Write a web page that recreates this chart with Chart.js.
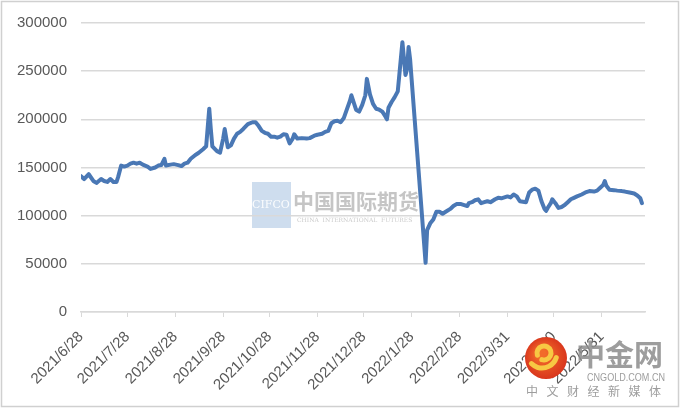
<!DOCTYPE html>
<html>
<head>
<meta charset="utf-8">
<script src="https://cdn.jsdelivr.net/npm/chart.js@4.4.1/dist/chart.umd.min.js"></script>
<style>
  html, body { margin: 0; padding: 0; background: #fff; }
  #wrap { width: 680px; height: 409px; position: relative; }
</style>
</head>
<body>
<div id="wrap"><canvas id="chart"></canvas></div>
<script>
// ---- data ----
const axisStart = '2021/6/28';
const axisEnd = '2022/6/28';
const tickLabels = ['2021/6/28', '2021/7/28', '2021/8/28', '2021/9/28', '2021/10/28', '2021/11/28',
  '2021/12/28', '2022/1/28', '2022/2/28', '2022/3/31', '2022/4/30', '2022/5/31'];

const dates = [
  '2021-06-28', '2021-06-30', '2021-07-03', '2021-07-06', '2021-07-08', '2021-07-11', '2021-07-13',
  '2021-07-15', '2021-07-17', '2021-07-19', '2021-07-21', '2021-07-22', '2021-07-24', '2021-07-26',
  '2021-07-28', '2021-07-30', '2021-08-01', '2021-08-03', '2021-08-05', '2021-08-07', '2021-08-10',
  '2021-08-12', '2021-08-15', '2021-08-17', '2021-08-19', '2021-08-21', '2021-08-22', '2021-08-25',
  '2021-08-27', '2021-08-30', '2021-09-01', '2021-09-03', '2021-09-05', '2021-09-07', '2021-09-10',
  '2021-09-12', '2021-09-15', '2021-09-17', '2021-09-19', '2021-09-20', '2021-09-21', '2021-09-24',
  '2021-09-26', '2021-09-28', '2021-09-29', '2021-10-01', '2021-10-03', '2021-10-05', '2021-10-07',
  '2021-10-09', '2021-10-11', '2021-10-14', '2021-10-17', '2021-10-19', '2021-10-21', '2021-10-23',
  '2021-10-25', '2021-10-27', '2021-10-29', '2021-10-31', '2021-11-02', '2021-11-04', '2021-11-06',
  '2021-11-08', '2021-11-10', '2021-11-12', '2021-11-13', '2021-11-15', '2021-11-18', '2021-11-21',
  '2021-11-23', '2021-11-26', '2021-11-28', '2021-12-01', '2021-12-03', '2021-12-05', '2021-12-07',
  '2021-12-09', '2021-12-11', '2021-12-13', '2021-12-15', '2021-12-17', '2021-12-19', '2021-12-20',
  '2021-12-22', '2021-12-23', '2021-12-25', '2021-12-27', '2021-12-29', '2021-12-30', '2022-01-01',
  '2022-01-03', '2022-01-05', '2022-01-07', '2022-01-09', '2022-01-11', '2022-01-12', '2022-01-13',
  '2022-01-15', '2022-01-17', '2022-01-19', '2022-01-20', '2022-01-22', '2022-01-24', '2022-01-25',
  '2022-01-26', '2022-01-27',
  '2022-02-06', '2022-02-07', '2022-02-09', '2022-02-11', '2022-02-13', '2022-02-15', '2022-02-17',
  '2022-02-19', '2022-02-22', '2022-02-24', '2022-02-26', '2022-03-01', '2022-03-03', '2022-03-05',
  '2022-03-06', '2022-03-08', '2022-03-10', '2022-03-12', '2022-03-14', '2022-03-16', '2022-03-18',
  '2022-03-20', '2022-03-22', '2022-03-23', '2022-03-25', '2022-03-27', '2022-03-29', '2022-03-31',
  '2022-04-02', '2022-04-04', '2022-04-06', '2022-04-08', '2022-04-10', '2022-04-12', '2022-04-14',
  '2022-04-16', '2022-04-18', '2022-04-20', '2022-04-22', '2022-04-24', '2022-04-25', '2022-04-26',
  '2022-04-28', '2022-04-29', '2022-05-01', '2022-05-03', '2022-05-05', '2022-05-07', '2022-05-09',
  '2022-05-11', '2022-05-13', '2022-05-15', '2022-05-18', '2022-05-21', '2022-05-23', '2022-05-26',
  '2022-05-28', '2022-05-30', '2022-06-01', '2022-06-02', '2022-06-03', '2022-06-05', '2022-06-08',
  '2022-06-10', '2022-06-13', '2022-06-15', '2022-06-18', '2022-06-21', '2022-06-23', '2022-06-25',
  '2022-06-26'
];

const values = [
  141000, 138000, 143000, 136000, 134000, 138000, 136000,
  135000, 138000, 135000, 135000, 140000, 152000, 151000,
  152000, 154000, 155000, 154000, 155000, 153000, 151000,
  148500, 150000, 152000, 152500, 159000, 152000, 153000,
  153500, 152500, 151500, 154000, 155000, 159000, 163000,
  165000, 169000, 172000, 211000, 190000, 172000, 167000,
  165500, 180000, 190000, 171000, 173000, 180000, 185000,
  187000, 190000, 195000, 197000, 197000, 193000, 188000,
  186000, 185000, 182000, 182000, 181000, 182000, 184500,
  184000, 175000, 180000, 184500, 180000, 180500, 180000,
  180500, 183000, 184000, 185000, 187000, 188000, 196000,
  198000, 198500, 197000, 201000, 210000, 219000, 225000,
  215000, 210000, 208000, 215000, 225000, 242000, 226000,
  216000, 211000, 210000, 208000, 203000, 200000, 212000,
  218000, 223000, 229000, 246000, 280000, 246000, 252000,
  275000, 262000,
  51000, 85000, 92000, 96000, 104000, 104000, 102000,
  104000, 107000, 110000, 112000, 112000, 111000, 110000,
  113000, 114000, 116000, 117000, 113000, 114000, 115000,
  114000, 116000, 117000, 118500, 118000, 119000, 120000,
  119000, 122000, 120000, 115000, 114500, 114000, 124000,
  127000, 128000, 126000, 115000, 107000, 105000, 108000,
  113000, 117000, 113000, 108000, 109000, 111000, 114000,
  117000, 118500, 120000, 122000, 124500, 125500, 125000,
  126000, 129000, 132000, 136000, 131000, 127000, 126500,
  126000, 125500, 125000, 124000, 123000, 121000, 118000,
  113000
];

// day offset from the axis start, for the linear x scale
function dayIndex(s) {
  const p = s.split(/[-\/]/).map(Number);
  const a = axisStart.split('/').map(Number);
  return Math.round((Date.UTC(p[0], p[1] - 1, p[2]) - Date.UTC(a[0], a[1] - 1, a[2])) / 86400000);
}

const points = dates.map((d, i) => ({ x: dayIndex(d), y: values[i] }));
const tickDays = tickLabels.map(dayIndex);

const TEXT = '#595959';
const GRID = '#d9d9d9';

// white background, outer frame and the two watermarks
const decor = {
  id: 'decor',
  beforeDraw(chart) {
    const ctx = chart.ctx;
    ctx.save();
    ctx.fillStyle = '#fff';
    ctx.fillRect(0, 0, chart.width, chart.height);
    ctx.strokeStyle = '#d0d0d0';
    ctx.lineWidth = 1.5;
    ctx.strokeRect(1.5, 1.5, chart.width - 3, chart.height - 4);

    // CIFCO mark in the middle
    ctx.fillStyle = 'rgba(190,210,232,0.75)';
    ctx.fillRect(252, 182, 39, 46);
    ctx.fillStyle = 'rgba(255,255,255,0.9)';
    ctx.font = '11px "DejaVu Serif"';
    ctx.textBaseline = 'middle';
    ctx.fillText('CIFCO', 252, 205);
    ctx.fillStyle = 'rgba(150,150,150,0.55)';
    ctx.font = 'bold 21px "Noto Sans CJK SC"';
    ctx.fillText('中国国际期货', 293, 201);
    ctx.fillStyle = 'rgba(150,150,150,0.5)';
    ctx.font = '6px "DejaVu Serif"';
    ctx.fillText('CHINA  INTERNATIONAL  FUTURES', 297, 220);
    ctx.restore();
  },
  afterDraw(chart) {
    const ctx = chart.ctx;
    ctx.save();
    // cngold logo, bottom right
    const g = ctx.createRadialGradient(541, 353, 4, 546, 358, 22);
    g.addColorStop(0, '#f26b2a');
    g.addColorStop(1, '#d8341c');
    ctx.fillStyle = g;
    ctx.beginPath();
    ctx.arc(546, 358, 21, 0, Math.PI * 2);
    ctx.fill();
    ctx.strokeStyle = '#f7c843';
    ctx.lineWidth = 5;
    ctx.lineCap = 'round';
    ctx.beginPath();
    ctx.arc(544, 353, 7, Math.PI * 0.9, Math.PI * 2.6);
    ctx.stroke();
    ctx.beginPath();
    ctx.arc(542, 353, 15, Math.PI * 0.1, Math.PI * 0.75);
    ctx.stroke();

    ctx.fillStyle = 'rgba(140,140,140,0.85)';
    ctx.font = 'bold 29px "Noto Sans CJK SC"';
    ctx.textBaseline = 'middle';
    ctx.fillText('中金网', 576, 355);
    // squeeze the site name into its 78px slot
    ctx.font = '11px "Liberation Sans"';
    const site = 'CNGOLD.COM.CN';
    const sx = 78 / ctx.measureText(site).width;
    ctx.save();
    ctx.translate(587, 378);
    ctx.scale(sx, 1);
    ctx.fillText(site, 0, 0);
    ctx.restore();
    ctx.font = '12px "Noto Sans CJK SC"';
    const tag = '中文财经新媒体';
    for (let i = 0; i < tag.length; i++) ctx.fillText(tag[i], 526 + i * 20.5, 391);
    ctx.restore();
  }
};

new Chart(document.getElementById('chart'), {
  type: 'line',
  data: {
    datasets: [{
      data: points,
      borderColor: '#4a78b5',
      borderWidth: 4,
      pointRadius: 0,
      tension: 0,
      borderJoinStyle: 'round',
      borderCapStyle: 'round'
    }]
  },
  options: {
    responsive: true,
    maintainAspectRatio: false,
    animation: false,
    layout: { padding: { top: 21, right: 35, left: 0, bottom: 0 } },
    plugins: { legend: { display: false }, tooltip: { enabled: false } },
    scales: {
      x: {
        type: 'linear',
        min: 0,
        max: dayIndex(axisEnd),
        afterBuildTicks: (scale) => { scale.ticks = tickDays.map(v => ({ value: v })); },
        afterFit: (scale) => { scale.height = 97; },
        grid: { drawOnChartArea: false, drawTicks: true, tickLength: 5, color: GRID },
        border: { color: GRID, width: 1.5 },
        ticks: {
          autoSkip: false,
          minRotation: 45,
          maxRotation: 45,
          padding: 11,
          color: TEXT,
          font: { family: '"Liberation Sans"', size: 15 },
          callback: (v, i) => tickLabels[i]
        }
      },
      y: {
        min: 0,
        max: 300000,
        afterFit: (scale) => { scale.width = 81; },
        ticks: {
          stepSize: 50000,
          padding: 14,
          color: TEXT,
          font: { family: '"Liberation Sans"', size: 15 },
          callback: (v) => String(v)
        },
        grid: { color: GRID, lineWidth: 1.5, drawTicks: false },
        border: { display: false }
      }
    }
  },
  plugins: [decor]
});
</script>
</body>
</html>
